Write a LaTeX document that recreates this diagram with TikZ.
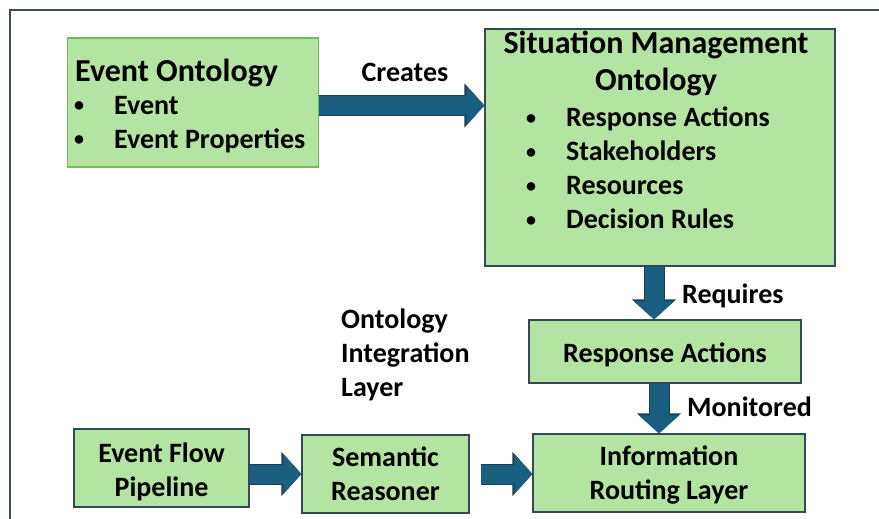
\documentclass[tikz,border=0pt]{standalone}
\usepackage{fontspec}
\setmainfont{Carlito}
\usetikzlibrary{arrows.meta}

\definecolor{boxgreen}{RGB}{180,228,162}
\definecolor{boxline}{RGB}{52,72,88}
\definecolor{leafline}{RGB}{112,190,80}
\definecolor{flowblue}{RGB}{26,94,128}
\definecolor{flowedge}{RGB}{30,62,86}
\definecolor{framegray}{RGB}{62,76,90}

\newcommand{\bodyfont}{\fontsize{28}{34}\selectfont\bfseries}
\newcommand{\headfont}{\fontsize{32}{37}\selectfont\bfseries}
\newcommand{\itm}[1]{\makebox[40pt][l]{\raisebox{2pt}{\fontsize{20}{20}\selectfont\textbullet}}#1}

\tikzset{
  block/.style={draw=boxline, fill=boxgreen, line width=1.2pt, inner sep=0pt, font=\bodyfont, align=center},
  txt/.style={inner sep=0pt, font=\bodyfont},
  fatarrow/.style={draw=flowblue, line width=19pt, -{Triangle[length=18pt,width=39pt]},
    preaction={draw=flowedge, line width=21pt, -{Triangle[length=20pt,width=43pt]}}}
}

\begin{document}
\begin{tikzpicture}[x=1pt,y=-1pt]
  \useasboundingbox (0,0) rectangle (879,519);
  \draw [framegray, line width=1.5pt] (10,540) -- (10,10) -- (900,10);

  % ontologies
  \node [block, draw=leafline, minimum width=251pt, minimum height=129pt] (evont) at (193,102.5) {};
  \node [txt, font=\headfont, anchor=base west] (evtitle) at (75,82) {Event Ontology};
  \node [txt, anchor=base west] (evlist) at (74,114)
    {\begin{tabular}[t]{@{}l@{}}\itm{Event}\\\itm{Event Properties}\end{tabular}};

  \node [block, minimum width=350pt, minimum height=237pt] (sit) at (660,147.5) {};
  \node [txt, font=\headfont, anchor=base] (sittitle) at (656,54)
    {\begin{tabular}[t]{@{}c@{}}Situation Management\\Ontology\end{tabular}};
  \node [txt, anchor=base west] (sitlist) at (526,127)
    {\begin{tabular}[t]{@{}l@{}}\itm{Response Actions}\\\itm{Stakeholders}\\\itm{Resources}\\\itm{Decision Rules}\end{tabular}};

  % lower layer
  \node [block, minimum width=272pt, minimum height=63pt] (resp) at (665,351.5) {\rule{0pt}{26pt}Response Actions};
  \node [block, minimum width=272pt, minimum height=78pt] (info) at (669,473) {\rule{0pt}{24pt}Information\\Routing Layer};
  \node [block, minimum width=175pt, minimum height=78pt] (flow) at (161.5,468) {\rule{0pt}{27pt}Event Flow\\Pipeline};
  \node [block, minimum width=167pt, minimum height=78pt] (sem) at (385.5,474) {Semantic\\Reasoner};
  \node [txt, align=left, anchor=west] (layer) at (341,355) {Ontology\\Integration\\Layer};

  % arrows and labels
  \draw [fatarrow] ([yshift=-3pt]evont.east) -- ([yshift=-3pt]evont.east -| sit.west);
  \node [txt, anchor=base] (creates) at (405,82) {Creates};
  \draw [fatarrow] ([xshift=-11pt]resp.north |- sit.south) -- ([xshift=-11pt]resp.north);
  \node [txt, anchor=base west] (requires) at (682,303) {Requires};
  \draw [fatarrow] ([xshift=-6pt]resp.south) -- ([xshift=-6pt]resp.south |- info.north);
  \node [txt, anchor=base west] (monitored) at (687,416) {Monitored};
  \draw [fatarrow] (flow.east |- sem.west) -- (sem.west);
  \draw [fatarrow] ([xshift=11pt]sem.east) -- (info.west |- sem.east);
\end{tikzpicture}
\end{document}
